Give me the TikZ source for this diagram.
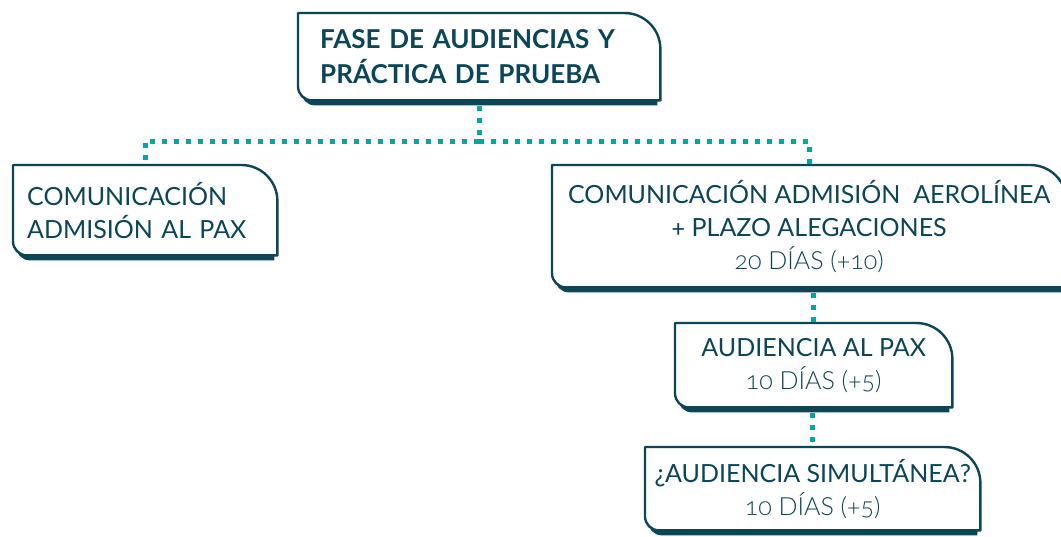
\documentclass[tikz,border=0pt]{standalone}
\usepackage{fontspec}
\setmainfont{Lato}[Numbers=OldStyle]
\newfontfamily\lightfont{Lato Light}[Numbers=OldStyle]
\usetikzlibrary{backgrounds}
\definecolor{petrol}{HTML}{0B4658}
\definecolor{turq}{HTML}{00A99D}
\def\roundbig{36}
\def\roundsmall{14}
\tikzset{fase/.style={anchor=north west, inner sep=0pt, text=petrol, align=center,
    font=\fontsize{25}{33}\selectfont}}
\tikzset{frame/.style={draw=petrol, line width=2.4pt, fill=white, line join=round}}
\tikzset{link/.style={turq, line width=5pt, dash pattern=on 5pt off 7pt}}

% outline of a box: #1 node, #2 inset, #3 drop
\newcommand{\faseshape}[3]{%
  ([xshift=#2,yshift=#3]#1.north west)
  -- ([xshift=-#2-\roundbig pt,yshift=#3]#1.north east)
  arc[start angle=90,end angle=0,radius=\roundbig pt]
  -- ([xshift=-#2,yshift=#3]#1.south east)
  -- ([xshift=#2+\roundsmall pt,yshift=#3]#1.south west)
  arc[start angle=270,end angle=180,radius=\roundsmall pt]
  -- cycle}

\begin{document}
\begin{tikzpicture}[x=1pt, y=1pt]
  \useasboundingbox (0,0) rectangle (1061,-536);
  \clip (0,0) rectangle (1061,-536);

  % Cajas
  \node[fase, align=left, text width=318pt, minimum width=362pt, minimum height=87pt,
    font=\fontsize{26}{35}\selectfont\bfseries] (fase) at (298,-13)
    {FASE DE AUDIENCIAS Y\\PRÁCTICA DE PRUEBA};
  \node[fase, align=left, text width=236pt, minimum width=264pt, minimum height=90pt]
    (compax) at (13,-165) {COMUNICACIÓN\\ADMISIÓN AL PAX};
  \node[fase, minimum width=514pt, minimum height=122pt] (comaer) at (552,-165)
    {COMUNICACIÓN ADMISIÓN\ \ AEROLÍNEA\\+ PLAZO ALEGACIONES\\{\lightfont 20 DÍAS (+10)}};
  \node[fase, minimum width=277pt, minimum height=84pt] (audpax) at (675,-323)
    {AUDIENCIA AL PAX\\{\lightfont 10 DÍAS (+5)}};
  \node[fase, minimum width=335pt, minimum height=83pt] (audsim) at (645,-447)
    {¿AUDIENCIA SIMULTÁNEA?\\{\lightfont 10 DÍAS (+5)}};

  \begin{scope}[on background layer]
    \foreach \n in {fase,compax,comaer,audpax,audsim}{
      \fill[petrol] \faseshape{\n}{3pt}{-5pt};
      \draw[frame] \faseshape{\n}{0pt}{0pt};
    }
  \end{scope}

  % Conectores
  \draw[link] ([yshift=-6pt]fase.south) -- ++(0,-35) coordinate (split);
  \draw[link] (split) -| (compax.north);
  \draw[link] (split) -| (comaer.north);
  \draw[link] ([yshift=-6pt]audpax.north |- comaer.south) -- (audpax.north);
  \draw[link] ([yshift=-6pt]audsim.north |- audpax.south) -- (audsim.north);
\end{tikzpicture}
\end{document}
